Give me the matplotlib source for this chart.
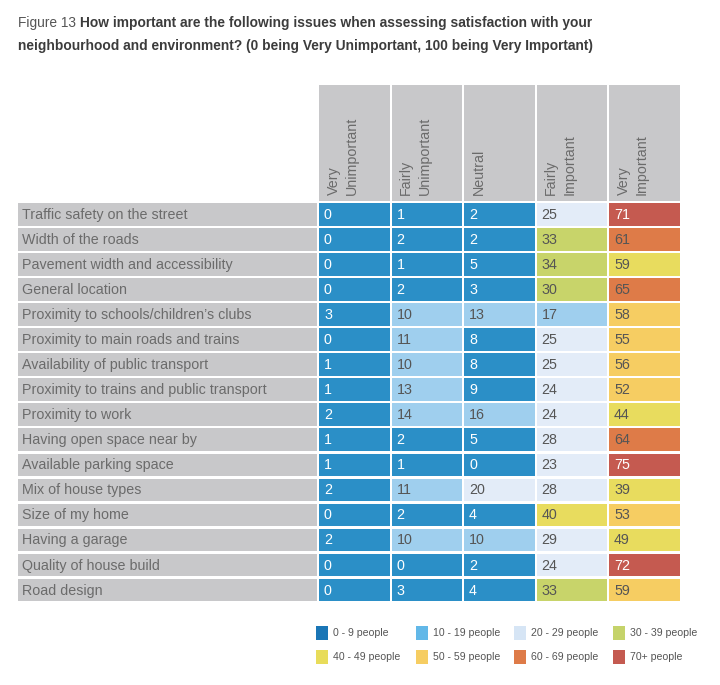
import matplotlib
matplotlib.use('Agg')
import matplotlib.pyplot as plt
from matplotlib.patches import Rectangle
from matplotlib import font_manager

issues = [
    'Traffic safety on the street', 'Width of the roads', 'Pavement width and accessibility',
    'General location', 'Proximity to schools/children\u2019s clubs', 'Proximity to main roads and trains',
    'Availability of public transport', 'Proximity to trains and public transport', 'Proximity to work',
    'Having open space near by', 'Available parking space', 'Mix of house types', 'Size of my home',
    'Having a garage', 'Quality of house build', 'Road design',
]
very_unimportant = [0, 0, 0, 0, 3, 0, 1, 1, 2, 1, 1, 2, 0, 2, 0, 0]
fairly_unimportant = [1, 2, 1, 2, 10, 11, 10, 13, 14, 2, 1, 11, 2, 10, 0, 3]
neutral = [2, 2, 5, 3, 13, 8, 8, 9, 16, 5, 0, 20, 4, 10, 2, 4]
fairly_important = [25, 33, 34, 30, 17, 25, 25, 24, 24, 28, 23, 28, 40, 29, 24, 33]
very_important = [71, 61, 59, 65, 58, 55, 56, 52, 44, 64, 75, 39, 53, 49, 72, 59]
columns = ['Very\nUnimportant', 'Fairly\nUnimportant', 'Neutral', 'Fairly\nImportant', 'Very\nImportant']

band_edges = [0, 10, 20, 30, 40, 50, 60, 70]
band_labels = ['0 - 9 people', '10 - 19 people', '20 - 29 people', '30 - 39 people',
               '40 - 49 people', '50 - 59 people', '60 - 69 people', '70+ people']
# the original shades a couple of cells one band off
band_overrides = {(2, 4): 4, (11, 4): 4}

cell_colors = ['#2b8fc7', '#9fcfee', '#e3ecf8', '#c8d46a', '#e8dc5e', '#f6cd62', '#de7b48', '#c55a50']
swatch_colors = ['#1a76b6', '#62b8e8', '#d6e5f5', '#c5d36a', '#e8dc5a', '#f6cd62', '#de7b48', '#c45a50']

available = {f.name for f in font_manager.fontManager.ttflist}
narrow = 'Liberation Sans Narrow' if 'Liberation Sans Narrow' in available else 'Liberation Sans'
plt.rcParams['font.family'] = ['Liberation Sans', 'DejaVu Sans']

W, H = 720, 685
fig = plt.figure(figsize=(W / 100, H / 100), dpi=100)
ax = fig.add_axes([0, 0, 1, 1])
ax.set_xlim(0, W)
ax.set_ylim(H, 0)
ax.axis('off')

# layout (pixels)
label_x0, label_x1 = 18, 316.5
col_x0, col_pitch, col_w = 319, 72.5, 70.5
head_y0, head_y1 = 85, 200.5
row_y0, row_pitch, row_gap = 203, 25.05, 2.4
label_grey = '#c8c8ca'
text_grey = '#6b6b6b'

# title
renderer = fig.canvas.get_renderer()
title_fs = 9.9
t = ax.text(18, 27, 'Figure 13', fontsize=title_fs, family=narrow, color='#555555', va='baseline')
ext = t.get_window_extent(renderer)
ax.text(ext.x1 + 3.5, 27, 'How important are the following issues when assessing satisfaction with your',
        fontsize=title_fs, family=narrow, weight='bold', color='#3c3c3c', va='baseline')
ax.text(18, 50, 'neighbourhood and environment? (0 being Very Unimportant, 100 being Very Important)',
        fontsize=title_fs, family=narrow, weight='bold', color='#3c3c3c', va='baseline')

# header
for j, name in enumerate(columns):
    x = col_x0 + j * col_pitch
    ax.add_patch(Rectangle((x, head_y0), col_w, head_y1 - head_y0, color=label_grey, lw=0))
    ax.text(x + 7.5, head_y1 - 6, name, rotation=90, rotation_mode='anchor', ha='left', va='top',
            multialignment='left', fontsize=10.3, color=text_grey, linespacing=1.4)

values = list(zip(very_unimportant, fairly_unimportant, neutral, fairly_important, very_important))

for i, (issue, row) in enumerate(zip(issues, values)):
    y = row_y0 + i * row_pitch
    h = row_pitch - row_gap
    ax.add_patch(Rectangle((label_x0, y), label_x1 - label_x0, h, color=label_grey, lw=0))
    ax.text(label_x0 + 4, y + h / 2 + 0.5, issue, va='center', ha='left', fontsize=10.3, color=text_grey)
    for j, v in enumerate(row):
        band = sum(v >= e for e in band_edges) - 1
        band = band_overrides.get((i, j), band)
        x = col_x0 + j * col_pitch
        ax.add_patch(Rectangle((x, y), col_w, h, color=cell_colors[band], lw=0))
        tc = 'white' if band in (0, 7) else '#555555'
        ax.text(x + 5, y + h / 2 + 0.5, str(v), va='center', ha='left', fontsize=10.3, color=tc)

# legend
leg_x = [316, 416, 514, 613]
leg_y = [633, 657]
for k, (lab, c) in enumerate(zip(band_labels, swatch_colors)):
    x = leg_x[k % 4]
    y = leg_y[k // 4]
    ax.add_patch(Rectangle((x, y - 7), 12, 14, color=c, lw=0))
    ax.text(x + 17, y, lab, va='center', ha='left', fontsize=7.6, color='#555555')

fig.savefig('out.png', dpi=100, facecolor='white')
